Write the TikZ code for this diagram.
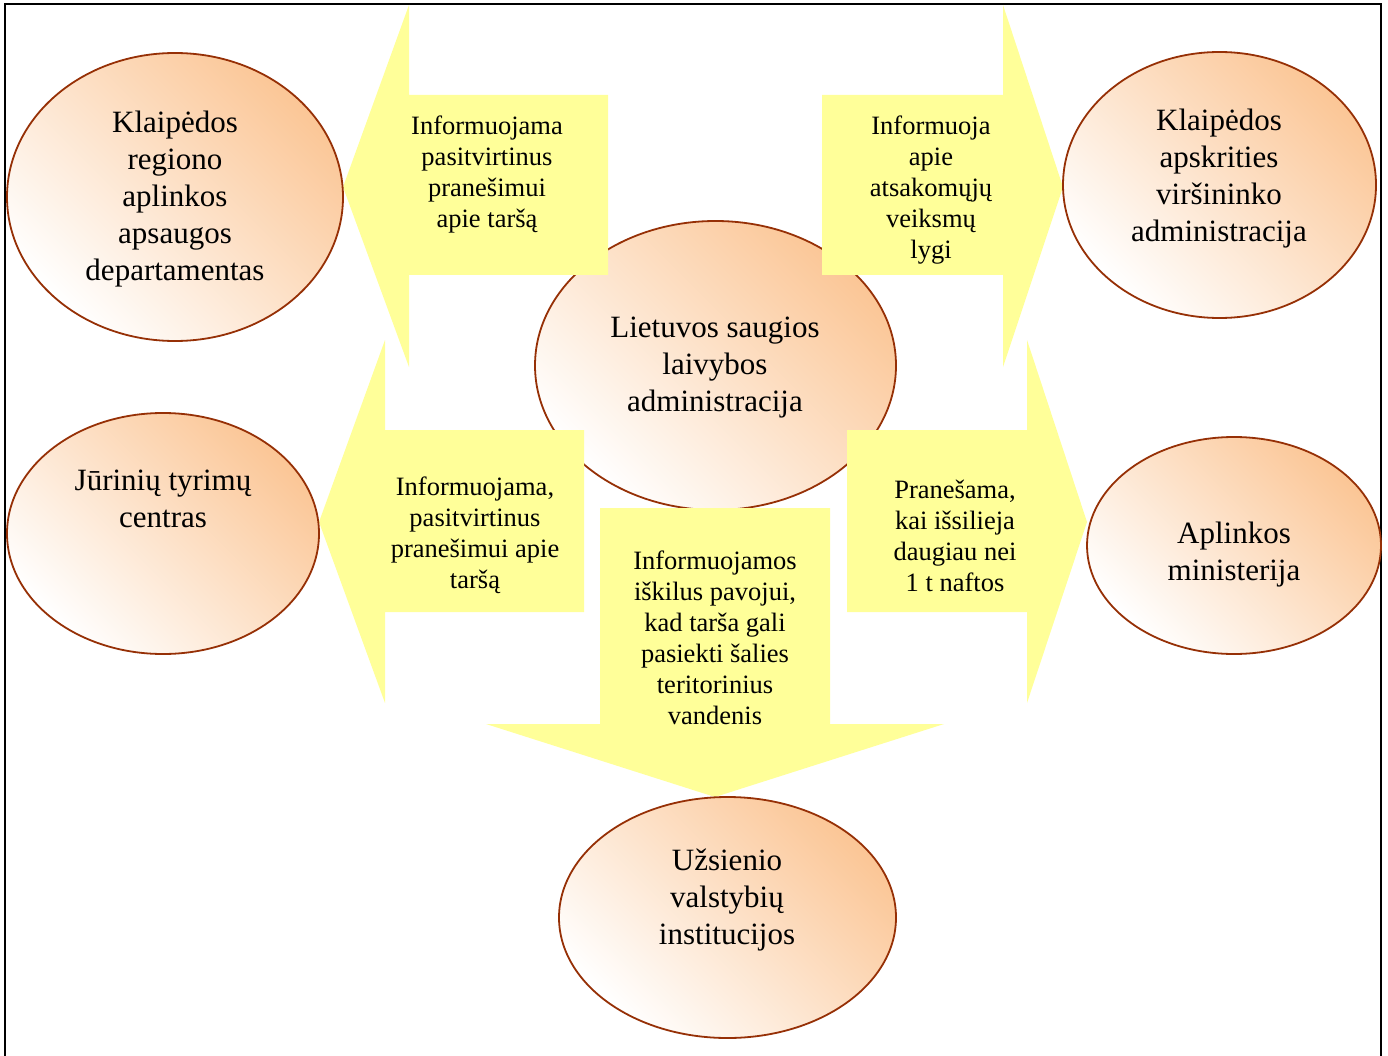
\documentclass[tikz,border=0pt]{standalone}
\usepackage{fontspec}
\setmainfont{Liberation Serif}
\usetikzlibrary{shapes.geometric}
\definecolor{peach}{RGB}{251,198,150}
\definecolor{rim}{RGB}{150,48,6}
\definecolor{pale}{RGB}{255,255,153}

\begin{document}
\begin{tikzpicture}[x=1pt,y=-1pt,
    org/.style={ellipse,draw=rim,line width=1.8pt,inner sep=0pt,outer sep=0pt,
        top color=peach,bottom color=white,shading angle=-45},
    orgtext/.style={align=center,font=\fontsize{31}{37}\selectfont,yshift=-3.5pt},
    msg/.style={fill=pale,draw=none},
    msgtext/.style={align=center,font=\fontsize{26.5}{31}\selectfont,yshift=-2.5pt}]
    \useasboundingbox (0,0) rectangle (1388,1056);
    \clip (0,0) rectangle (1388,1056);
    \fill[white] (0,0) rectangle (1388,1056);
    \draw[line width=2pt] (5,4) rectangle (1381,1090);
    % the middle ellipse lies under the arrows
    \node[org,minimum width=361pt,minimum height=289pt] (lsla) at (715.5,365.5) {};
    % block arrows
    \fill[msg] (608,95) -- (409,95) -- (409,5) -- (343,187) -- (409,367) -- (409,275) -- (608,275) -- cycle;
    \fill[msg] (822,95) -- (1003,95) -- (1003,5) -- (1063,187) -- (1003,367) -- (1003,275) -- (822,275) -- cycle;
    \fill[msg] (584,430) -- (385,430) -- (385,340) -- (319,522) -- (385,703) -- (385,612) -- (584,612) -- cycle;
    \fill[msg] (847,430) -- (1027,430) -- (1027,340) -- (1087,522) -- (1027,703) -- (1027,612) -- (847,612) -- cycle;
    \fill[msg] (600,508) -- (830,508) -- (830,724) -- (944,724) -- (715,797) -- (486,724) -- (600,724) -- cycle;
    % outer ellipses
    \node[org,minimum width=336pt,minimum height=288pt] (regdep) at (175,197) {};
    \node[org,minimum width=313pt,minimum height=266pt] (apskr) at (1219.5,185) {};
    \node[org,minimum width=312pt,minimum height=241pt] (jtc) at (163,533.5) {};
    \node[org,minimum width=294pt,minimum height=217pt] (am) at (1234,545.5) {};
    \node[org,minimum width=337pt,minimum height=241pt] (uvi) at (727.5,917.5) {};
    % ellipse texts
    \node[orgtext] (lslatxt) at (715,364) {Lietuvos saugios\\laivybos\\administracija};
    \node[orgtext] (regdeptxt) at (175,196) {Klaipėdos\\regiono\\aplinkos\\apsaugos\\departamentas};
    \node[orgtext] (apskrtxt) at (1219,175) {Klaipėdos\\apskrities\\viršininko\\administracija};
    \node[orgtext] (jtctxt) at (163,495) {Jūrinių tyrimų\\centras};
    \node[orgtext] (amtxt) at (1234,551) {Aplinkos\\ministerija};
    \node[orgtext] (uvitxt) at (727,897) {Užsienio\\valstybių\\institucijos};
    % arrow texts
    \node[msgtext] (m1) at (487,172) {Informuojama\\pasitvirtinus\\pranešimui\\apie taršą};
    \node[msgtext] (m2) at (931,188) {Informuoja\\apie\\atsakomųjų\\veiksmų\\lygi};
    \node[msgtext] (m3) at (475,533) {Informuojama,\\pasitvirtinus\\pranešimui apie\\taršą};
    \node[msgtext] (m4) at (955,533) {Pranešama,\\kai išsilieja\\daugiau nei\\1 t naftos};
    \node[msgtext] (m5) at (715,635) {Informuojamos\\iškilus pavojui,\\kad tarša gali\\pasiekti šalies\\teritorinius\\vandenis};
\end{tikzpicture}
\end{document}
